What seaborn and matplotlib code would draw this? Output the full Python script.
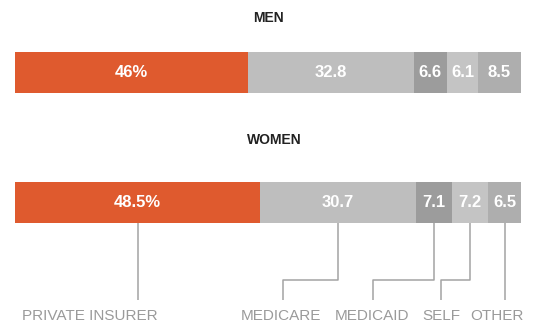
import matplotlib
matplotlib.use("Agg")
import matplotlib.pyplot as plt
import seaborn as sns
import numpy as np
import pandas as pd

# Share of hospital stays by primary payer, percent
groups = ["MEN", "WOMEN"]
payers = ["PRIVATE INSURER", "MEDICARE", "MEDICAID", "SELF", "OTHER"]
men = [46.0, 32.8, 6.6, 6.1, 8.5]
women = [48.5, 30.7, 7.1, 7.2, 6.5]
# where each leader line ends and where each payer name is centred (percent scale)
line_end = [None, 53.0, 70.8, 84.2, None]
label_pos = [14.8, 52.6, 70.6, 84.2, 95.3]

colors = ["#DF5A2E", "#BEBEBE", "#9C9C9C", "#C4C4C4", "#AEAEAE"]

sns.set_theme(style="white")
plt.rcParams["font.family"] = ["Liberation Sans", "DejaVu Sans"]

W, H = 551, 325
fig = plt.figure(figsize=(W / 100, H / 100), dpi=100)
ax = fig.add_axes([0, 0, 1, 1])

# axis scale: 0..100 percent spans pixels 15..521; one category step = 130 px
x0_px, x1_px = 15, 521
sx = (x1_px - x0_px) / 100.0
step = 130.0
y_top = -72.5 / step


def dx(px):
    return (px - x0_px) / sx


def dy(py):
    return y_top + py / step


vals = np.array([men, women])
cum = np.cumsum(vals, axis=1)
df = pd.DataFrame(cum, columns=payers)
df["group"] = groups

# stacked bars: draw cumulative totals from the widest down
for i in range(len(payers) - 1, -1, -1):
    sns.barplot(data=df, x=payers[i], y="group", orient="h", color=colors[i],
                saturation=1, width=41 / step, linewidth=0, ax=ax)

ax.set_xlim(dx(0), dx(W))
ax.set_ylim(dy(H), dy(0))
ax.set_axis_off()

# values inside segments
for r, row in enumerate(vals):
    left = 0.0
    for i, v in enumerate(row):
        txt = f"{v:g}%" if i == 0 else f"{v:.1f}"
        ax.text(left + v / 2, r, txt, ha="center", va="center",
                color="white", fontsize=12, fontweight="bold")
        left += v

# group titles
ax.text(dx(268), dy(18), "MEN", ha="center", va="center",
        fontsize=10, fontweight="bold", color="#222222")
ax.text(dx(274), dy(140), "WOMEN", ha="center", va="center",
        fontsize=10, fontweight="bold", color="#222222")

# leader lines from women's segments to payer names
line_kw = dict(color="#A3A3A3", lw=1.1, solid_capstyle="butt")
bar_bottom = 1 + 0.5 * 41 / step
elbow = dy(280)
end = dy(300)
left = 0.0
for i, v in enumerate(women):
    cx = left + v / 2
    lx = line_end[i]
    if lx is None:
        ax.plot([cx, cx], [bar_bottom, end], **line_kw)
    else:
        ax.plot([cx, cx, lx, lx], [bar_bottom, elbow, elbow, end], **line_kw)
    ax.text(label_pos[i], dy(316), payers[i], ha="center", va="center",
            fontsize=11, color="#9A9A9A")
    left += v

fig.savefig("out.png", dpi=100)
